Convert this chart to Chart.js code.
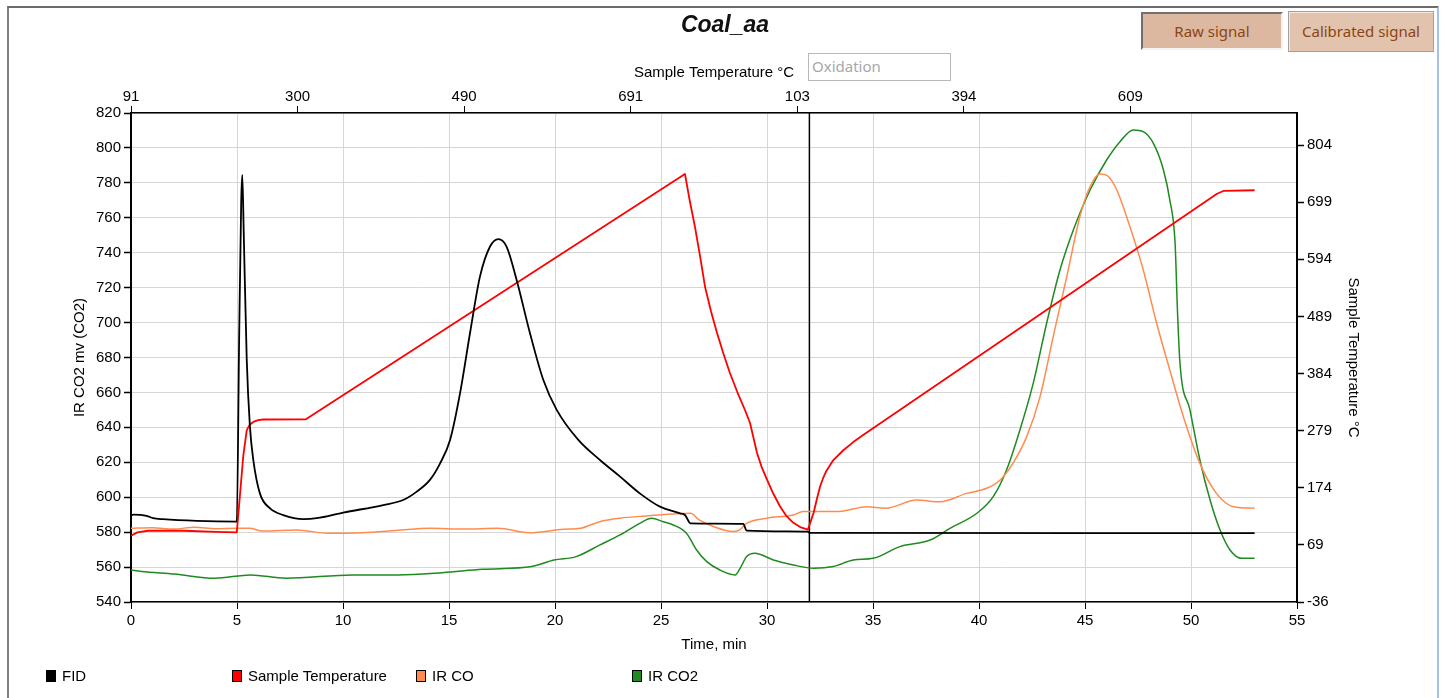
<!DOCTYPE html>
<html>
<head>
<meta charset="utf-8">
<title>Coal_aa</title>
<script src="https://cdn.jsdelivr.net/npm/chart.js@4.4.1/dist/chart.umd.min.js"></script>
<style>
    html, body { margin: 0; padding: 0; background: #fff; overflow: hidden; }
    body { font-family: "Liberation Sans", Arial, sans-serif; width: 1443px; height: 698px; position: relative; }
    #frame { position: absolute; left: 7px; top: 6px; width: 1428px; height: 692px; border-left: 2px solid #808080; border-top: 2px solid #6c6c6c; border-right: 2px solid #a7c2ea; }
    #grafico { position: absolute; left: 0; top: 0; }
    #titulo { position: absolute; left: 0; top: 11px; width: 1450px; text-align: center; font: italic bold 23px "Liberation Sans", Arial, sans-serif; color: #111; }
    .boton { position: absolute; box-sizing: border-box; font: 15px "Noto Sans", "Open Sans", sans-serif; color: #8b4513; text-align: center; }
    #btnRaw { left: 1141px; top: 12px; width: 142px; height: 38px; line-height: 34px; background: #dcb8a0; border: 2px solid; border-color: #707070 #f4f4f4 #f4f4f4 #707070; }
    #btnCal { left: 1288px; top: 11px; width: 146px; height: 41px; line-height: 38px; background: #e2c3ad; border: 1px solid #a0a0a0; box-shadow: inset 1px 1px 0 #f6e9df; }
    #oxidacion { position: absolute; left: 808px; top: 53px; width: 143px; height: 28px; box-sizing: border-box; border: 1px solid #b8b8b8; font: 15px "Noto Sans", "Open Sans", sans-serif; color: #a8a8a8; padding-left: 3px; line-height: 24px; background: #fff; }
    .leyenda { position: absolute; top: 667px; height: 18px; line-height: 18px; font-size: 15px; color: #000; white-space: nowrap; }
    .caja { display: inline-block; width: 8px; height: 10px; border: 1px solid #000; margin-right: 6px; vertical-align: -1px; }
</style>
</head>
<body>
<div id="frame"></div>
<canvas id="grafico" width="1443" height="698"></canvas>
<div id="titulo">Coal_aa</div>
<div class="boton" id="btnRaw">Raw signal</div>
<div class="boton" id="btnCal">Calibrated signal</div>
<div id="oxidacion">Oxidation</div>
<div class="leyenda" style="left:46px"><span class="caja" style="background:#000000"></span>FID</div>
<div class="leyenda" style="left:232px"><span class="caja" style="background:#ff0000"></span>Sample Temperature</div>
<div class="leyenda" style="left:416px"><span class="caja" style="background:#ff8c4e"></span>IR CO</div>
<div class="leyenda" style="left:632px"><span class="caja" style="background:#1f8a1f"></span>IR CO2</div>

<script>
// time in minutes, signals in mV (left axis), temperature in degC (right axis)
var timeFID = [0, 0.11, 0.74, 1.04, 1.51, 3.1, 4.99, 5.1, 5.2, 5.25, 5.32, 5.46, 5.61, 5.77, 6.08, 6.56, 7.18, 8.13, 8.76, 10.01, 11.9, 12.84, 13.48, 14.1, 14.58, 15.05, 15.52, 15.99, 16.46, 16.93, 17.33, 17.72, 18.19, 18.82, 19.45, 20.08, 21.1, 22.12, 23.07, 24.0, 24.95, 25.9, 26.13, 26.4, 28.88, 29.04, 31.92, 32.0, 53.0]
var valuesFID = [589.5, 590, 589.3, 588, 587.4, 586.4, 586, 690, 770, 784.5, 750, 678.6, 640.4, 621.3, 602.2, 593.6, 589.8, 587.5, 588, 591.2, 595.5, 598.4, 603.2, 609.9, 619.4, 632.8, 659.5, 693.9, 726.3, 743.4, 747.8, 743.4, 724.4, 693.9, 667.1, 650, 632.8, 621.3, 611.8, 602.2, 594.6, 590.8, 589.8, 585, 584.7, 580.9, 580.3, 579.6, 579.4]

var timeTemp = [0, 0.3, 0.8, 2.5, 4.0, 4.99, 5.14, 5.3, 5.46, 5.6, 5.77, 6.0, 6.24, 8.25, 26.13, 26.35, 26.6, 26.85, 27.08, 27.36, 27.64, 27.95, 28.25, 28.6, 28.96, 29.2, 29.53, 29.75, 30.0, 30.3, 30.61, 30.9, 31.23, 31.6, 31.93, 32.2, 32.35, 32.5, 32.65, 32.8, 33.13, 33.6, 34.07, 34.5, 35.02, 51.21, 51.55, 53.0]
var valuesTemp = [86, 92, 95, 95, 93, 92, 161, 234, 280, 290, 295, 298.5, 299.5, 300, 751, 703, 654, 598, 543, 498, 459, 420, 385, 350, 317, 293, 238, 212, 189, 163, 140, 123, 110, 101, 97, 128, 153, 176, 192, 205, 225, 243, 258, 270, 284, 714, 720, 721]

var timeCO = [0, 1, 2, 3, 4, 5, 5.6, 6.2, 7.8, 9.3, 10.9, 12.5, 14.1, 15.7, 17.3, 18.8, 20.4, 21.2, 22.1, 23.07, 24.3, 25.6, 26.4, 26.8, 27.47, 28.4, 28.7, 29.04, 30.0, 31.24, 31.7, 32.5, 33.4, 34.7, 35.6, 37.06, 38.16, 39.42, 40.36, 41.0, 41.6, 42.25, 42.88, 43.5, 44.14, 44.76, 45.24, 45.7, 46.1, 46.5, 47.12, 47.75, 48.38, 49.0, 49.64, 50.42, 51.2, 52.0, 53.0]
var valuesCO = [582.2, 582.5, 581.8, 582.8, 582, 582.2, 582.2, 580.6, 581.2, 579.4, 579.7, 580.9, 582.2, 581.8, 582.2, 579.7, 581.6, 582.2, 586, 588, 589.3, 590.4, 590.8, 587, 583.2, 580.3, 581.2, 585, 588, 589.8, 591.8, 591.8, 591.8, 594.6, 593.7, 598.4, 597.4, 602.2, 605.1, 609.9, 619.4, 634.7, 657.6, 692, 726.3, 760.7, 777.9, 785.1, 783.6, 775.9, 754.9, 730.1, 699.6, 672.8, 646.1, 619.4, 602.2, 594.6, 593.7]

var timeCO2 = [0, 0.5, 2.06, 3.95, 5.64, 7.31, 10.47, 12.6, 14.69, 16.59, 18.9, 19.95, 21.0, 22.1, 23.07, 24.0, 24.56, 25.1, 25.58, 26.2, 26.68, 27.16, 27.78, 28.5, 28.73, 29.04, 29.43, 30.3, 31.24, 32.2, 33.13, 34.07, 35.0, 36.27, 37.7, 38.63, 39.9, 40.67, 41.3, 41.93, 42.56, 43.19, 43.82, 44.45, 45.24, 46.02, 46.65, 47.28, 47.75, 48.22, 48.7, 49.0, 49.25, 49.36, 49.48, 49.95, 50.42, 50.9, 51.37, 51.84, 52.4, 53.0]
var valuesCO2 = [558.3, 557.5, 556, 553.6, 555.5, 553.6, 555.5, 555.5, 556.8, 558.7, 560.3, 564, 566, 572.6, 578.4, 585, 587.9, 586, 584.1, 579.4, 569.8, 563.1, 558.3, 555.5, 559.3, 566, 567.9, 564.1, 561.2, 559.3, 560.3, 564, 565, 571.7, 575.5, 582.2, 590.8, 600.3, 615.6, 638.5, 665.3, 699.6, 730.1, 753, 775.9, 793.1, 803.6, 810.3, 809.3, 802.7, 787.4, 770.2, 745.4, 707.2, 676.7, 650, 621.3, 598.4, 581.2, 569.8, 565, 565]

var stageTime = 32
var topTickTimes = [0, 7.86, 15.71, 23.57, 31.43, 39.29, 47.14]
var topTickLabels = ['91', '300', '490', '691', '103', '394', '609']
var rightTicks = [-36, 69, 174, 279, 384, 489, 594, 699, 804]
var leftMin = 540, leftMax = 820
var rightMin = -36, rightMax = 863


function buildPoints(times, values) {
    var pts = []
    for (var i = 0; i < times.length && i < values.length; i++) {
        pts.push({x: times[i], y: values[i]})
    }
    return pts
}

Chart.defaults.color = '#000'
Chart.defaults.font.family = '"Liberation Sans", Arial, sans-serif'
Chart.defaults.font.size = 15

var lineBase = {pointRadius: 0, cubicInterpolationMode: 'monotone', borderJoinStyle: 'round', fill: false}
// the temperature program is piecewise linear, keep it straight
var lineStraight = {pointRadius: 0, tension: 0, borderJoinStyle: 'round', fill: false}

var datasets = [
    Object.assign({label: 'FID', data: buildPoints(timeFID, valuesFID), borderColor: '#000000', borderWidth: 1.8, yAxisID: 'y'}, lineBase),
    Object.assign({label: 'Sample Temperature', data: buildPoints(timeTemp, valuesTemp), borderColor: '#ff0000', borderWidth: 1.8, yAxisID: 'y1'}, lineStraight),
    Object.assign({label: 'IR CO', data: buildPoints(timeCO, valuesCO), borderColor: '#ff8c4e', borderWidth: 1.5, yAxisID: 'y'}, lineBase),
    Object.assign({label: 'IR CO2', data: buildPoints(timeCO2, valuesCO2), borderColor: '#1f8a1f', borderWidth: 1.5, yAxisID: 'y'}, lineBase),
    Object.assign({label: 'stage', data: [{x: stageTime, y: leftMin}, {x: stageTime, y: leftMax}], borderColor: '#000', borderWidth: 1.5, yAxisID: 'y'}, lineStraight)
]

var chart = new Chart(document.getElementById('grafico'), {
    type: 'line',
    data: {datasets: datasets},
    options: {
        responsive: false,
        animation: false,
        layout: {padding: {left: 67, right: 79, top: 0, bottom: 44}},
        plugins: {legend: {display: false}, tooltip: {enabled: false}, title: {display: false}},
        scales: {
            x: {
                type: 'linear', position: 'bottom', min: 0, max: 55,
                ticks: {stepSize: 5, autoSkip: false, maxRotation: 0, padding: 3},
                grid: {color: '#d6d6d6', tickColor: '#000', tickLength: 7},
                border: {color: '#000', width: 1.5},
                title: {display: true, text: 'Time, min', padding: {top: 0, bottom: 0}},
                afterFit: function (s) { s.height = 52 }
            },
            xTop: {
                type: 'linear', axis: 'x', position: 'top', min: 0, max: 55,
                afterBuildTicks: function (s) { s.ticks = topTickTimes.map(function (v) { return {value: v} }) },
                ticks: {autoSkip: false, maxRotation: 0, padding: 0, callback: function (v, i) { return topTickLabels[i] }},
                grid: {drawOnChartArea: false, tickColor: '#000', tickLength: 7},
                border: {color: '#000', width: 1.5},
                title: {display: true, text: 'Sample Temperature °C', padding: {top: 64, bottom: 0}},
                afterFit: function (s) { s.height = 113 }
            },
            y: {
                type: 'linear', position: 'left', min: leftMin, max: leftMax,
                ticks: {stepSize: 20, autoSkip: false, padding: 3},
                grid: {color: '#d6d6d6', tickColor: '#000', tickLength: 7, tickWidth: 1.5},
                border: {color: '#000', width: 2},
                title: {display: true, text: 'IR CO2 mv (CO2)', padding: {top: 4, bottom: 0}},
                afterFit: function (s) { s.width = 64 }
            },
            y1: {
                type: 'linear', position: 'right', min: rightMin, max: rightMax,
                afterBuildTicks: function (s) { s.ticks = rightTicks.map(function (v) { return {value: v} }) },
                ticks: {autoSkip: false, padding: 3},
                grid: {drawOnChartArea: false, tickColor: '#000', tickLength: 7, tickWidth: 1.5},
                border: {color: '#000', width: 2},
                title: {display: true, text: 'Sample Temperature °C', padding: {top: 2, bottom: 0}},
                afterFit: function (s) { s.width = 67 }
            }
        }
    }
})
</script>
</body>
</html>
